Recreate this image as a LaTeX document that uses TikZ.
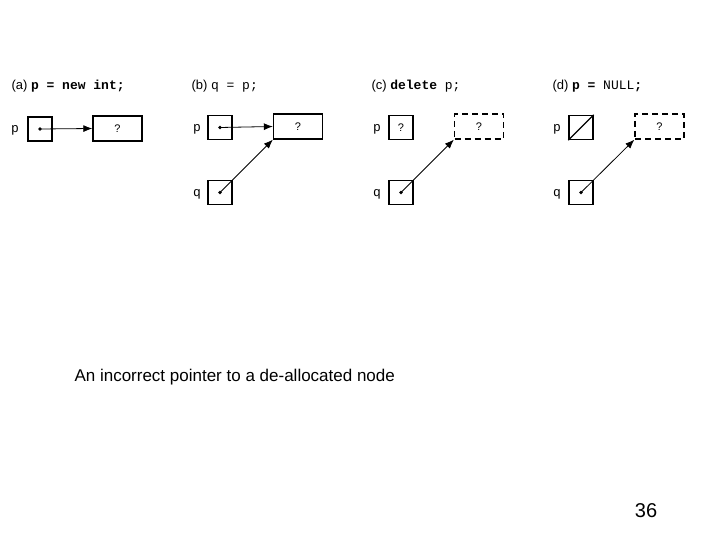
\documentclass[tikz,border=0pt]{standalone}
\usepackage{fontspec}
\usetikzlibrary{arrows.meta}
\setmainfont{Liberation Sans}
\setmonofont{Liberation Mono}
\begin{document}
\begin{tikzpicture}[x=1pt,y=-1pt,
  cell/.style={draw,line width=1.4pt,minimum width=24pt,minimum height=24pt,inner sep=0pt,font=\fontsize{11}{11}\selectfont},
  tgt/.style={draw,line width=1.4pt,minimum width=49pt,minimum height=25pt,inner sep=0pt,font=\fontsize{11}{11}\selectfont},
  dtgt/.style={tgt,dash pattern=on 6pt off 4pt},
  lbl/.style={font=\ttfamily\fontsize{13}{13}\selectfont},
  ttl/.style={anchor=west,font=\fontsize{13}{13}\selectfont},
  ptr/.style={-{Latex[length=9pt,width=7pt]},line width=0.8pt},
  dotc/.style={circle,fill,inner sep=1.3pt}]
\useasboundingbox (0,0) rectangle (720,540);
% (a)
\node[ttl] (ta) at (8,86) {(a) \texttt{\textbf{p = new int;}}};
\node[lbl] (pla) at (15,130) {p};
\node[cell] (pa) at (40,129) {};
\node[tgt] (xa) at (117.5,128.5) {?};
\node[dotc] (da) at (pa.center) {};
\draw[ptr] (da.center) -- (xa.west);
% (b)
\node[ttl] (tb) at (188,86) {(b) \texttt{q = p;}};
\node[lbl] (plb) at (197,129) {p};
\node[cell] (pb) at (220,127.5) {};
\node[tgt] (xb) at (298,126.5) {?};
\node[dotc] (dpb) at (pb.center) {};
\draw[ptr] (dpb.center) -- (xb.west);
\node[lbl] (qlb) at (197,194) {q};
\node[cell] (qb) at (220,192.5) {};
\node[dotc] (dqb) at (qb.center) {};
\draw[ptr] (dqb.center) -- (xb.south west);
% (c)
\node[ttl] (tc) at (368,86) {(c) \texttt{\textbf{delete} p;}};
\node[lbl] (plc) at (377,129) {p};
\node[cell] (pc) at (401,127.5) {?};
\node[dtgt] (xc) at (479,126.5) {?};
\node[lbl] (qlc) at (377,194) {q};
\node[cell] (qc) at (401,192.5) {};
\node[dotc] (dqc) at (qc.center) {};
\draw[ptr] (dqc.center) -- (xc.south west);
% (d)
\node[ttl] (td) at (549,86) {(d) \texttt{\textbf{p =} NULL\textbf{;}}};
\node[lbl] (pld) at (557,129) {p};
\node[cell] (pd) at (581,127.5) {};
\draw[line width=1.4pt] (pd.south west) -- (pd.north east);
\node[dtgt] (xd) at (659.5,126.5) {?};
\node[lbl] (qld) at (557,194) {q};
\node[cell] (qd) at (581,192.5) {};
\node[dotc] (dqd) at (qd.center) {};
\draw[ptr] (dqd.center) -- (xd.south west);
% caption
\node[anchor=west,font=\fontsize{17}{17}\selectfont] (cap) at (71,377) {An incorrect pointer to a de-allocated node};
\node[font=\fontsize{20}{20}\selectfont] (pg) at (646,511) {36};
\end{tikzpicture}
\end{document}
